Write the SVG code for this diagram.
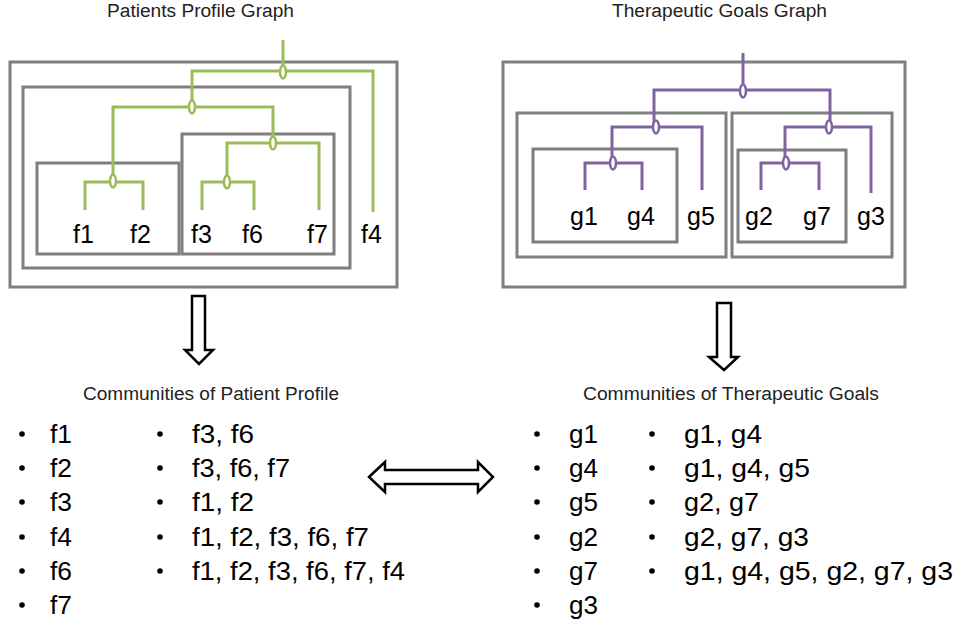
<svg xmlns="http://www.w3.org/2000/svg" width="959" height="626" viewBox="0 0 959 626">
<style>
.box{fill:none;stroke:#7f7f7f;stroke-width:3}
.g{fill:none;stroke:#9bbb59;stroke-width:3}
.p{fill:none;stroke:#8064a2;stroke-width:3}
.gn{fill:#fff;stroke:#9bbb59;stroke-width:2.5}
.pn{fill:#fff;stroke:#8064a2;stroke-width:2.5}
.ttl{font-family:"Liberation Sans",Arial,sans-serif;font-size:18px;fill:#222}
.lbl{font-family:"Liberation Sans",Arial,sans-serif;font-size:25px;fill:#000}
.arr{fill:#fff;stroke:#000;stroke-width:2.5;stroke-linejoin:miter}
.dot{fill:#000}
</style>
<rect width="959" height="626" fill="#fff"/>
<text class="ttl" x="107" y="17" textLength="187" lengthAdjust="spacingAndGlyphs">Patients Profile Graph</text>
<text class="ttl" x="612" y="17" textLength="215" lengthAdjust="spacingAndGlyphs">Therapeutic Goals Graph</text>
<text class="ttl" x="83" y="400" textLength="256" lengthAdjust="spacingAndGlyphs">Communities of Patient Profile</text>
<text class="ttl" x="583" y="400" textLength="296" lengthAdjust="spacingAndGlyphs">Communities of Therapeutic Goals</text>

<g id="patient-boxes">
<rect class="box" x="10" y="62" width="387" height="225"/>
<rect class="box" x="23" y="87" width="327" height="181"/>
<rect class="box" x="37" y="163" width="142" height="91"/>
<rect class="box" x="182" y="134" width="152" height="120"/>
</g>
<g id="goal-boxes">
<rect class="box" x="503" y="62" width="402" height="225"/>
<rect class="box" x="517" y="113" width="209" height="144"/>
<rect class="box" x="533" y="149" width="144" height="93"/>
<rect class="box" x="732" y="113" width="160" height="144"/>
<rect class="box" x="738" y="150" width="108" height="92"/>
</g>

<g id="connectors">
<path class="g" d="M283 40V71 M192 107V71H373V212 M113 180V107H273V143 M85 210V182H143V210 M227 182V143H319V210 M202 210V182H254V210"/>
<path class="p" d="M743 53V90 M654 127V90H830V127 M612 163V127H702V190 M585 190V163H642V190 M785 163V127H871V193 M761 190V163H819V190"/>
<path class="arr" d="M192 296H205V350H213L199 364L185 350H192Z"/>
<path class="arr" d="M717 303H731V357H738L724 370L709 357H717Z"/>
<path class="arr" d="M369 477L385 462V470H478V462L493 477L478 492V484H385V492Z"/>
</g>

<g id="patient-nodes">
<ellipse class="gn" cx="283" cy="72" rx="3" ry="6.5"/>
<ellipse class="gn" cx="192" cy="107" rx="3" ry="6.5"/>
<ellipse class="gn" cx="113" cy="181" rx="3" ry="6.5"/>
<ellipse class="gn" cx="273" cy="143" rx="3" ry="6.5"/>
<ellipse class="gn" cx="227" cy="182" rx="3" ry="6.5"/>
<text class="lbl" x="73" y="243">f1</text>
<text class="lbl" x="130" y="243">f2</text>
<text class="lbl" x="191" y="243">f3</text>
<text class="lbl" x="242" y="243">f6</text>
<text class="lbl" x="307" y="243">f7</text>
<text class="lbl" x="361" y="243">f4</text>
</g>
<g id="goal-nodes">
<ellipse class="pn" cx="743" cy="91" rx="3" ry="6.5"/>
<ellipse class="pn" cx="656" cy="127" rx="3" ry="6.5"/>
<ellipse class="pn" cx="829" cy="127" rx="3" ry="6.5"/>
<ellipse class="pn" cx="613" cy="163" rx="3" ry="6.5"/>
<ellipse class="pn" cx="786" cy="163" rx="3" ry="6.5"/>
<text class="lbl" x="570" y="225">g1</text>
<text class="lbl" x="627" y="225">g4</text>
<text class="lbl" x="687" y="225">g5</text>
<text class="lbl" x="745" y="225">g2</text>
<text class="lbl" x="803" y="225">g7</text>
<text class="lbl" x="857" y="225">g3</text>
</g>

<g id="patient-communities">
<circle class="dot" cx="22" cy="434" r="2.8"/><text class="lbl" x="50" y="443" textLength="22" lengthAdjust="spacingAndGlyphs">f1</text>
<circle class="dot" cx="22" cy="468" r="2.8"/><text class="lbl" x="50" y="477" textLength="22" lengthAdjust="spacingAndGlyphs">f2</text>
<circle class="dot" cx="22" cy="502" r="2.8"/><text class="lbl" x="50" y="511" textLength="22" lengthAdjust="spacingAndGlyphs">f3</text>
<circle class="dot" cx="22" cy="537" r="2.8"/><text class="lbl" x="50" y="546" textLength="22" lengthAdjust="spacingAndGlyphs">f4</text>
<circle class="dot" cx="22" cy="571" r="2.8"/><text class="lbl" x="50" y="580" textLength="22" lengthAdjust="spacingAndGlyphs">f6</text>
<circle class="dot" cx="22" cy="605" r="2.8"/><text class="lbl" x="50" y="614" textLength="22" lengthAdjust="spacingAndGlyphs">f7</text>
<circle class="dot" cx="160" cy="434" r="2.8"/><text class="lbl" x="192" y="443" textLength="62" lengthAdjust="spacingAndGlyphs">f3, f6</text>
<circle class="dot" cx="160" cy="468" r="2.8"/><text class="lbl" x="192" y="477" textLength="98" lengthAdjust="spacingAndGlyphs">f3, f6, f7</text>
<circle class="dot" cx="160" cy="502" r="2.8"/><text class="lbl" x="192" y="511" textLength="62" lengthAdjust="spacingAndGlyphs">f1, f2</text>
<circle class="dot" cx="160" cy="537" r="2.8"/><text class="lbl" x="192" y="546" textLength="177" lengthAdjust="spacingAndGlyphs">f1, f2, f3, f6, f7</text>
<circle class="dot" cx="160" cy="571" r="2.8"/><text class="lbl" x="192" y="580" textLength="213" lengthAdjust="spacingAndGlyphs">f1, f2, f3, f6, f7, f4</text>
</g>
<g id="goal-communities">
<circle class="dot" cx="537" cy="434" r="2.8"/><text class="lbl" x="569" y="443" textLength="29" lengthAdjust="spacingAndGlyphs">g1</text>
<circle class="dot" cx="537" cy="468" r="2.8"/><text class="lbl" x="569" y="477" textLength="29" lengthAdjust="spacingAndGlyphs">g4</text>
<circle class="dot" cx="537" cy="502" r="2.8"/><text class="lbl" x="569" y="511" textLength="29" lengthAdjust="spacingAndGlyphs">g5</text>
<circle class="dot" cx="537" cy="537" r="2.8"/><text class="lbl" x="569" y="546" textLength="29" lengthAdjust="spacingAndGlyphs">g2</text>
<circle class="dot" cx="537" cy="571" r="2.8"/><text class="lbl" x="569" y="580" textLength="29" lengthAdjust="spacingAndGlyphs">g7</text>
<circle class="dot" cx="537" cy="605" r="2.8"/><text class="lbl" x="569" y="614" textLength="29" lengthAdjust="spacingAndGlyphs">g3</text>
<circle class="dot" cx="652" cy="434" r="2.8"/><text class="lbl" x="684" y="443" textLength="78" lengthAdjust="spacingAndGlyphs">g1, g4</text>
<circle class="dot" cx="652" cy="468" r="2.8"/><text class="lbl" x="684" y="477" textLength="126" lengthAdjust="spacingAndGlyphs">g1, g4, g5</text>
<circle class="dot" cx="652" cy="502" r="2.8"/><text class="lbl" x="684" y="511" textLength="75" lengthAdjust="spacingAndGlyphs">g2, g7</text>
<circle class="dot" cx="652" cy="537" r="2.8"/><text class="lbl" x="684" y="546" textLength="125" lengthAdjust="spacingAndGlyphs">g2, g7, g3</text>
<circle class="dot" cx="652" cy="571" r="2.8"/><text class="lbl" x="684" y="580" textLength="269" lengthAdjust="spacingAndGlyphs">g1, g4, g5, g2, g7, g3</text>
</g>
</svg>
